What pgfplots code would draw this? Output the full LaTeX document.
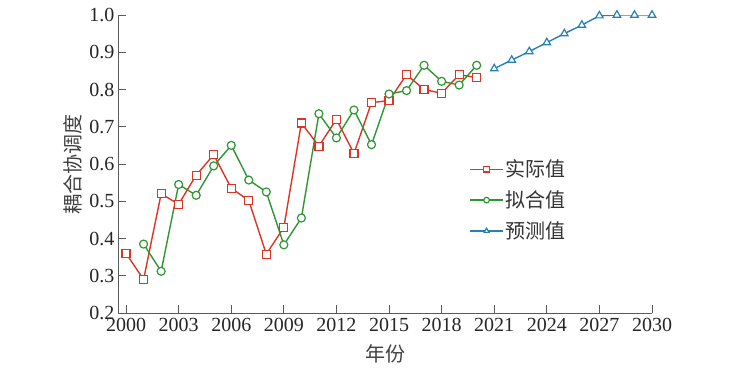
\documentclass[border=0pt]{standalone}
\usepackage{pgfplots}
\pgfplotsset{compat=1.18}
\usepackage{fontspec}
\setmainfont{Liberation Serif}
\newfontfamily\cjk{Noto Sans CJK SC}
\definecolor{cred}{RGB}{222,52,38}
\definecolor{cgreen}{RGB}{48,150,52}
\definecolor{cblue}{RGB}{38,128,182}
\definecolor{caxis}{RGB}{90,90,90}
\begin{document}
\begin{tikzpicture}
\path[use as bounding box] (0,0) rectangle (731pt,376pt);
\begin{axis}[
  at={(118pt,63pt)}, anchor=south west,
  scale only axis, width=534pt, height=298pt,
  xmin=1999.54, xmax=2030, ymin=0.2, ymax=1.0,
  axis x line*=bottom, axis y line*=left,
  axis line style={draw=caxis, line width=0.8pt},
  xtick={2000,2003,...,2030},
  ytick={0.2,0.3,...,1.0},
  yticklabel style={/pgf/number format/fixed, /pgf/number format/fixed zerofill, /pgf/number format/precision=1},
  xticklabel style={/pgf/number format/1000 sep={}},
  /pgf/number format/assume math mode=true,
  tick align=inside,
  major tick length=8pt,
  tick style={draw=caxis, line width=0.8pt},
  ticklabel style={font=\fontsize{20}{24}\selectfont, text=black!85},
  xticklabel shift=2pt, yticklabel shift=0pt,
  xlabel={\cjk 年份}, ylabel={\cjk 耦合协调度},
  xlabel style={yshift=-6pt},
  label style={font=\fontsize{20}{24}\selectfont, text=black!75},
  legend style={draw=none, fill=none, at={(0.652,0.379)}, anchor=west,
    font=\fontsize{20}{24}\selectfont, row sep=8.5pt, text=black!80},
  legend cell align=left,
  legend image code/.code={\draw[mark repeat=2,mark phase=2,mark size=2.8pt] plot coordinates {(0cm,0cm) (0.58cm,0cm) (1.16cm,0cm)};},
]
\addplot[color=cred, line width=1.4pt, mark=square*, mark size=4pt, mark options={draw=cred, fill=white, line width=1.2pt, solid}] coordinates {
(2000,0.360) (2001,0.290) (2002,0.520) (2003,0.492) (2004,0.570) (2005,0.625)
(2006,0.535) (2007,0.502) (2008,0.358) (2009,0.430) (2010,0.710) (2011,0.648)
(2012,0.720) (2013,0.628) (2014,0.765) (2015,0.770) (2016,0.840) (2017,0.800)
(2018,0.790) (2019,0.840) (2020,0.832)};
\addlegendentry{\cjk 实际值}
\addplot[color=cgreen, line width=1.4pt, mark=*, mark size=4pt, mark options={draw=cgreen, fill=white, line width=1.2pt, solid}] coordinates {
(2001,0.385) (2002,0.312) (2003,0.545) (2004,0.516) (2005,0.595) (2006,0.650)
(2007,0.557) (2008,0.525) (2009,0.383) (2010,0.455) (2011,0.735) (2012,0.670)
(2013,0.745) (2014,0.652) (2015,0.788) (2016,0.797) (2017,0.865) (2018,0.822)
(2019,0.812) (2020,0.865)};
\addlegendentry{\cjk 拟合值}
\addplot[color=cblue, line width=1.4pt, mark=triangle*, mark size=4.3pt, mark options={draw=cblue, fill=white, line width=1.2pt, solid}] coordinates {
(2021,0.856) (2022,0.879) (2023,0.902) (2024,0.926) (2025,0.950) (2026,0.973)
(2027,0.998) (2028,1.000) (2029,1.000) (2030,1.000)};
\addlegendentry{\cjk 预测值}
\end{axis}
\end{tikzpicture}
\end{document}
